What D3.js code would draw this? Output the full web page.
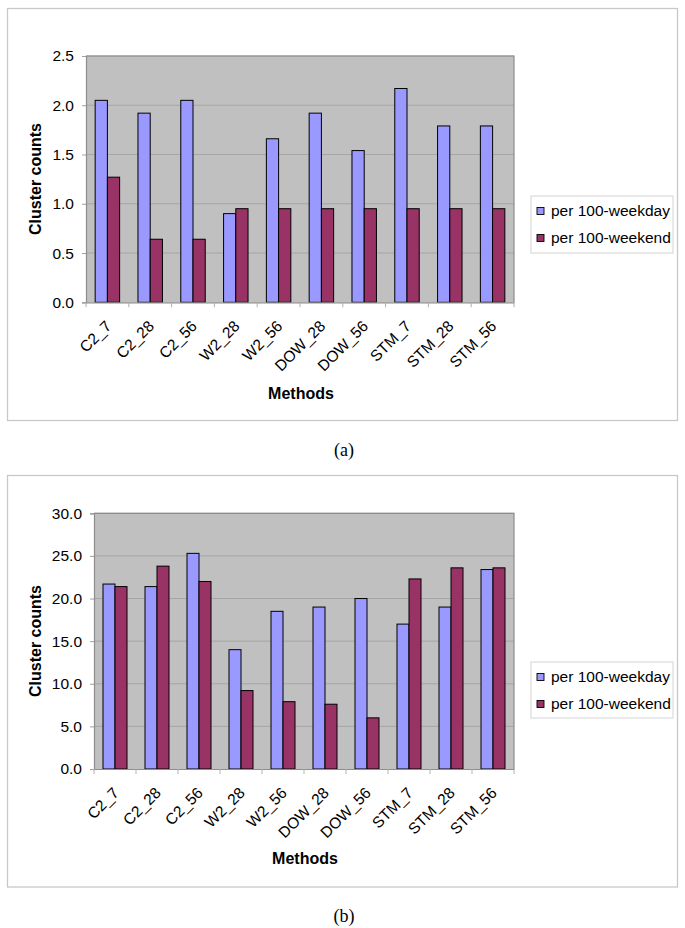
<!DOCTYPE html>
<html>
<head>
<meta charset="utf-8">
<script src="https://cdn.jsdelivr.net/npm/d3@7"></script>
<style>
  html, body { margin: 0; padding: 0; background: #fff; }
  svg { display: block; }
</style>
</head>
<body>
<script>
// ---------- data ----------
const categories = ["C2_7","C2_28","C2_56","W2_28","W2_56","DOW_28","DOW_56","STM_7","STM_28","STM_56"];
const seriesNames = ["per 100-weekday","per 100-weekend"];
const weekdayA = [2.05,1.92,2.05,0.90,1.66,1.92,1.54,2.17,1.79,1.79];
const weekendA = [1.27,0.64,0.64,0.95,0.95,0.95,0.95,0.95,0.95,0.95];
const weekdayB = [21.7,21.4,25.3,14.0,18.5,19.0,20.0,17.0,19.0,23.4];
const weekendB = [21.4,23.8,22.0,9.2,7.9,7.6,6.0,22.3,23.6,23.6];
const ticksA = [0,0.5,1.0,1.5,2.0,2.5];
const ticksB = [0,5,10,15,20,25,30];
const yTitle = "Cluster counts";
const xTitle = "Methods";
const captions = ["(a)","(b)"];

// ---------- styles ----------
const colors = ["#9999FF","#993366"];
const FONT = "'Liberation Sans', Arial, Helvetica, sans-serif";
const SERIF = "'Liberation Serif', 'Times New Roman', serif";

const svg = d3.select("body").append("svg")
  .attr("width", 685).attr("height", 928);
svg.append("rect").attr("width",685).attr("height",928).attr("fill","#fff");

function panel(cfg, wd, we, ticks, caption) {
  const g = svg.append("g");
  // outer frame
  g.append("rect")
    .attr("x", cfg.frame.x).attr("y", cfg.frame.y)
    .attr("width", cfg.frame.w).attr("height", cfg.frame.h)
    .attr("fill", "#fff").attr("stroke", "#c8c8c8").attr("stroke-width", 1.3);

  const P = cfg.plot;
  const x0 = d3.scaleBand().domain(categories).range([P.l, P.r]).padding(0);
  const y = d3.scaleLinear().domain([0, ticks[ticks.length-1]]).range([P.b, P.t]);

  // plot background
  g.append("rect").attr("x", P.l).attr("y", P.t)
    .attr("width", P.r - P.l).attr("height", P.b - P.t)
    .attr("fill", "#C0C0C0");

  // gridlines
  g.append("g").selectAll("line").data(ticks.slice(1)).join("line")
    .attr("x1", P.l).attr("x2", P.r)
    .attr("y1", d => y(d)).attr("y2", d => y(d))
    .attr("stroke", "#a6a6a6").attr("stroke-width", 1);

  // plot border (top/right)
  g.append("path")
    .attr("d", `M${P.l},${P.t}H${P.r}V${P.b}`)
    .attr("fill","none").attr("stroke","#8c8c8c").attr("stroke-width",1.2);

  // bars (Excel gap width 150%: each bar = category width / 3.5)
  const bw = x0.bandwidth() / 3.5;
  const x1 = d3.scaleBand().domain([0,1]).range([0, 2 * bw]);
  const rows = categories.map((c,i) => ({c, v:[wd[i], we[i]]}));
  const grp = g.append("g").selectAll("g").data(rows).join("g")
    .attr("transform", d => `translate(${x0(d.c) + (x0.bandwidth() - 2 * bw) / 2},0)`);
  grp.selectAll("rect").data(d => d.v.map((v,k)=>({v,k}))).join("rect")
    .attr("x", d => x1(d.k))
    .attr("width", x1.bandwidth())
    .attr("y", d => y(d.v))
    .attr("height", d => y(0) - y(d.v))
    .attr("fill", d => colors[d.k])
    .attr("stroke", "#000").attr("stroke-width", 1);

  // y axis
  const yAxis = d3.axisLeft(y).tickValues(ticks).tickFormat(d3.format(".1f"))
    .tickSize(4).tickPadding(8);
  const ya = g.append("g").attr("transform", `translate(${P.l},0)`).call(yAxis);
  ya.select(".domain").attr("stroke","#8c8c8c").attr("stroke-width",1.2);
  ya.selectAll(".tick line").attr("stroke","#a0a0a0");
  ya.selectAll(".tick text").attr("font-family", FONT).attr("font-size", 15.5).attr("fill","#000");

  // x axis
  const xAxis = d3.axisBottom(x0).tickSize(0).tickFormat(d => d);
  const xa = g.append("g").attr("transform", `translate(0,${P.b})`).call(xAxis);
  xa.select(".domain").attr("stroke","#8c8c8c").attr("stroke-width",1.2);
  xa.selectAll(".tick text")
    .attr("font-family", FONT).attr("font-size", 15.5).attr("fill","#000")
    .attr("text-anchor","end")
    .attr("transform","translate(1,21) rotate(-45)")
    .attr("y", 0).attr("dy","0.35em");
  // boundary tick marks
  g.append("g").selectAll("line").data(d3.range(categories.length + 1)).join("line")
    .attr("x1", i => P.l + i * x0.step()).attr("x2", i => P.l + i * x0.step())
    .attr("y1", P.b).attr("y2", P.b + 5)
    .attr("stroke","#b0b0b0");

  // axis titles
  g.append("text")
    .attr("transform", `translate(${cfg.yTitle.x},${cfg.yTitle.y}) rotate(-90)`)
    .attr("text-anchor","middle").attr("dy","0.35em")
    .attr("font-family", FONT).attr("font-weight","bold").attr("font-size", 16)
    .text(yTitle);
  g.append("text")
    .attr("x", cfg.xTitle.x).attr("y", cfg.xTitle.y)
    .attr("text-anchor","middle").attr("dy","0.35em")
    .attr("font-family", FONT).attr("font-weight","bold").attr("font-size", 16)
    .text(xTitle);

  // legend
  const L = cfg.legend;
  g.append("rect").attr("x", L.x).attr("y", L.y).attr("width", L.w).attr("height", L.h)
    .attr("fill","#fff").attr("stroke","#d4d4d4").attr("stroke-width",1);
  const li = g.append("g").selectAll("g").data(seriesNames).join("g")
    .attr("transform", (d,i) => `translate(${L.x + 6},${L.y + 15 + i*27})`);
  li.append("rect").attr("x",0).attr("y",-3.5).attr("width",7).attr("height",7)
    .attr("fill",(d,i)=>colors[i]).attr("stroke","#000").attr("stroke-width",0.9);
  li.append("text").attr("x",14).attr("y",0).attr("dy","0.35em")
    .attr("font-family", FONT).attr("font-size", 15.5).text(d => d);

  // caption
  g.append("text").attr("x", cfg.caption.x).attr("y", cfg.caption.y)
    .attr("text-anchor","middle")
    .attr("font-family", SERIF).attr("font-size", 18).text(caption);
}

panel({
  frame:{x:7.5,y:8.5,w:670,h:412},
  plot:{l:86,t:56,r:514,b:302.3},
  legend:{x:531,y:196,w:142,h:57},
  yTitle:{x:35,y:179},
  xTitle:{x:301,y:393},
  caption:{x:344,y:456}
}, weekdayA, weekendA, ticksA, captions[0]);

panel({
  frame:{x:7.5,y:475.5,w:670,h:411.5},
  plot:{l:94,t:513.3,r:514,b:769},
  legend:{x:531,y:662,w:142,h:56},
  yTitle:{x:35,y:641},
  xTitle:{x:305,y:858},
  caption:{x:344,y:922}
}, weekdayB, weekendB, ticksB, captions[1]);
</script>
</body>
</html>
